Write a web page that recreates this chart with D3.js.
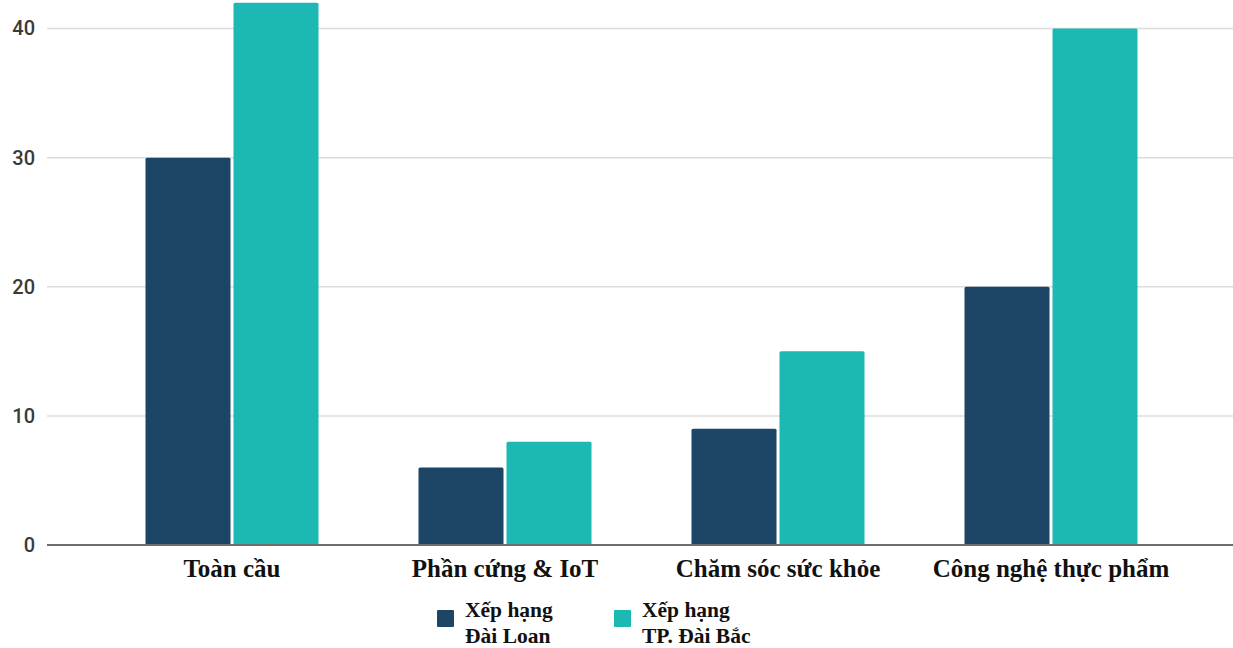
<!DOCTYPE html>
<html><head><meta charset="utf-8">
<script src="https://cdn.jsdelivr.net/npm/d3@7"></script>
<style>body{margin:0;background:#fff;}svg{display:block;}</style>
</head><body>
<svg id="c" width="1233" height="648"></svg>
<script>
const categories = ["Toàn cầu", "Phần cứng & IoT", "Chăm sóc sức khỏe", "Công nghệ thực phẩm"];
const seriesNames = ["Xếp hạng Đài Loan", "Xếp hạng TP. Đài Bắc"];
const taiwanRank = [30, 6, 9, 20];
const taipeiRank = [42, 8, 15, 40];
const yTicks = [0, 10, 20, 30, 40];
const legendLines = [["Xếp hạng", "Đài Loan"], ["Xếp hạng", "TP. Đài Bắc"]];
const colors = ["#1c4566", "#1cb8b3"];

const svg = d3.select("#c");
const y = d3.scaleLinear().domain([0, 40]).range([545, 28.5]);
const x0 = d3.scaleBand().domain(categories).range([95.5, 1187.5]).paddingInner(100/273).paddingOuter(50/273);
const x1 = d3.scaleBand().domain([0, 1]).range([0, x0.bandwidth()]).paddingInner(3/88);

// grid
const grid = svg.append("g");
grid.selectAll("line").data(yTicks.filter(d => d > 0)).join("line")
  .attr("x1", 47).attr("x2", 1233)
  .attr("y1", d => y(d)).attr("y2", d => y(d))
  .attr("stroke", "#dcdcdc").attr("stroke-width", 1.5);

// y tick labels
const yAxis = d3.axisLeft(y).tickValues(yTicks).tickSize(0).tickPadding(0);
const ya = svg.append("g").attr("transform", "translate(35,0)").call(yAxis);
ya.select(".domain").remove();
ya.selectAll("text").attr("font-family", "Roboto, sans-serif").attr("font-size", 20)
  .attr("font-weight", 500).attr("fill", "#3a3a3a");

// bars
const data = categories.map((c, i) => ({c, v: [taiwanRank[i], taipeiRank[i]]}));
const g = svg.append("g").selectAll("g").data(data).join("g")
  .attr("transform", d => `translate(${x0(d.c)},0)`);
g.selectAll("rect").data(d => d.v.map((v, k) => ({v, k}))).join("rect")
  .attr("x", d => x1(d.k)).attr("width", x1.bandwidth())
  .attr("y", d => y(d.v)).attr("height", d => y(0) - y(d.v))
  .attr("rx", 1.5)
  .attr("fill", d => colors[d.k]);

// baseline
svg.append("line").attr("x1", 47).attr("x2", 1233).attr("y1", y(0)).attr("y2", y(0))
  .attr("stroke", "#6e6e6e").attr("stroke-width", 2);

// category labels
const xAxis = d3.axisBottom(x0).tickSize(0).tickPadding(0);
const xa = svg.append("g").attr("transform", "translate(0,559)").call(xAxis);
xa.select(".domain").remove();
xa.selectAll("text").attr("font-family", "'Liberation Serif', 'Times New Roman', serif")
  .attr("font-size", 25).attr("font-weight", "bold").attr("fill", "#111");

// legend
const legX = [437, 614];
const leg = svg.append("g").selectAll("g").data(seriesNames).join("g")
  .attr("transform", (d, i) => `translate(${legX[i]},0)`);
leg.append("rect").attr("x", 0).attr("y", 610).attr("width", 17).attr("height", 17).attr("rx", 1)
  .attr("fill", (d, i) => colors[i]);
leg.each(function(d, i) {
  const t = d3.select(this).append("text").attr("font-family", "'Liberation Serif', 'Times New Roman', serif")
    .attr("font-size", 21.5).attr("font-weight", "bold").attr("fill", "#111");
  legendLines[i].forEach((ln, j) => t.append("tspan").attr("x", 28).attr("y", 617 + j * 26).text(ln));
});
</script>
</body></html>
